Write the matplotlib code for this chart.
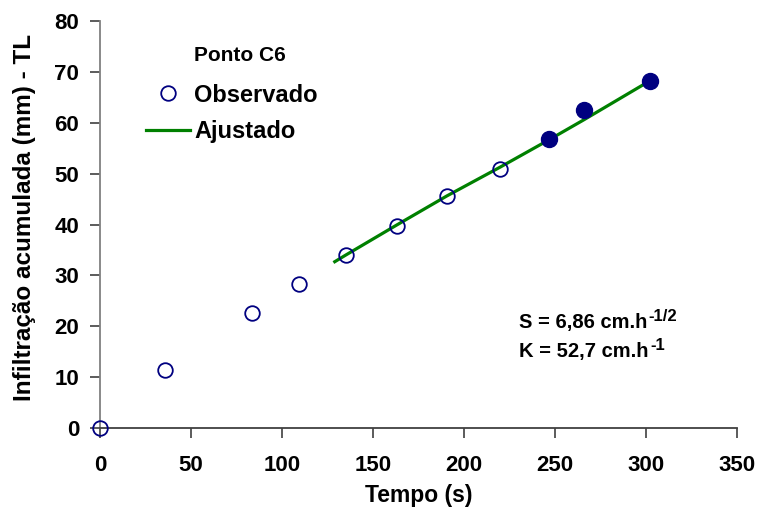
import matplotlib.pyplot as plt
from matplotlib.lines import Line2D
from matplotlib.transforms import offset_copy

plt.rcParams['font.family'] = ['Liberation Sans', 'DejaVu Sans']
plt.rcParams['font.weight'] = 'bold'

# Observed cumulative infiltration (open = early points, filled = steady phase)
t_obs = [0, 35.5, 83.5, 109.5, 135, 163, 190.5, 220]
i_obs = [0, 11.4, 22.7, 28.4, 34.1, 39.8, 45.6, 50.9]
t_fill = [246.5, 266, 302]
i_fill = [56.7, 62.4, 68.1]

# Fitted curve
t_fit = [129, 135, 163, 190.5, 220, 246.5, 266, 302]
i_fit = [32.7, 34.0, 39.9, 45.6, 51.3, 56.6, 60.6, 68.2]

NAVY = '#000080'
GREEN = '#008000'

fig = plt.figure(figsize=(7.63, 5.08), dpi=100)
ax = fig.add_axes([0.131, 0.157, 0.835, 0.802])

ax.plot(t_fit, i_fit, color=GREEN, lw=2.3, zorder=2)
ax.plot(t_obs, i_obs, 'o', ms=10.5, mfc='none', mec=NAVY, mew=1.3, zorder=3,
        clip_on=False)
ax.plot(t_fill, i_fill, 'o', ms=11.5, mfc=NAVY, mec=NAVY, zorder=3)

ax.set_xlim(0, 350)
ax.set_ylim(0, 80)
ax.set_xticks(range(0, 351, 50))
ax.set_yticks(range(0, 81, 10))
for s in ['top', 'right']:
    ax.spines[s].set_visible(False)
ax.spines['left'].set_color('#808080')
ax.spines['bottom'].set_color('#404040')
for s in ['left', 'bottom']:
    ax.spines[s].set_linewidth(1.3)
ax.tick_params(axis='both', length=7, width=1.2, color='#404040',
               labelsize=16)
ax.tick_params(axis='x', pad=12)
ax.tick_params(axis='y', pad=8)

ax.set_xlabel('Tempo (s)', fontsize=16.5, fontweight='bold', labelpad=6)
ax.set_ylabel('Infiltração acumulada (mm) - TL', fontsize=17.5,
              fontweight='bold')
ax.yaxis.set_label_coords(-0.1, 0.518)

# Legend, with its heading as a separate text
ax.text(0.22, 0.914, 'Ponto C6', transform=ax.transAxes, fontsize=15,
        fontweight='bold', ha='center', va='center')
handles = [
    Line2D([], [], ls='none', marker='o', ms=10.5, mfc='none', mec=NAVY, mew=1.3),
    Line2D([], [], color=GREEN, lw=2.3),
]
ax.legend(handles, ['Observado', 'Ajustado'],
          loc='upper left', bbox_to_anchor=(0.072, 0.846), frameon=False,
          prop={'size': 17, 'weight': 'bold'}, handlelength=1.85,
          handletextpad=0.21, labelspacing=0.58, borderaxespad=0,
          borderpad=0)

# Fitted parameters with superscript units
fig.canvas.draw()
renderer = fig.canvas.get_renderer()
for y, main, sup in [(0.245, 'S = 6,86 cm.h', '-1/2'),
                     (0.176, 'K = 52,7 cm.h', '-1')]:
    t = ax.text(0.658, y, main, transform=ax.transAxes, fontsize=14.5,
                fontweight='bold', va='baseline')
    bb = t.get_window_extent(renderer).transformed(ax.transAxes.inverted())
    ax.text(bb.x1 + 0.002, y, sup,
            transform=offset_copy(ax.transAxes, fig=fig, y=5, units='points'),
            fontsize=12, fontweight='bold', va='baseline')

fig.savefig('out.png', dpi=100)
